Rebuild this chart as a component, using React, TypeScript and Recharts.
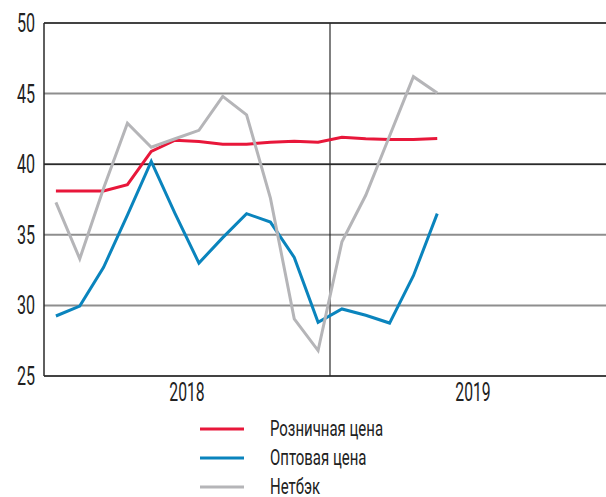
import React from "react";
import { CartesianGrid, Line, LineChart, ReferenceLine, XAxis, YAxis } from "recharts";

// months Jan 2018 .. May 2019
const months = [
  "01.2018", "02.2018", "03.2018", "04.2018", "05.2018", "06.2018",
  "07.2018", "08.2018", "09.2018", "10.2018", "11.2018", "12.2018",
  "01.2019", "02.2019", "03.2019", "04.2019", "05.2019",
];
const retail = [38.1, 38.1, 38.1, 38.55, 40.9, 41.7, 41.6, 41.42, 41.42, 41.55, 41.62, 41.56, 41.9, 41.8, 41.75, 41.75, 41.82];
const wholesale = [29.25, 29.95, 32.7, 36.4, 40.2, 36.5, 33.0, 34.8, 36.5, 35.9, 33.4, 28.8, 29.75, 29.3, 28.75, 32.1, 36.5];
const netback = [37.3, 33.3, 38.3, 42.9, 41.2, 41.8, 42.4, 44.8, 43.5, 37.6, 29.05, 26.8, 34.5, 37.8, 42.0, 46.2, 45.05];

const years = ["2018", "2019"];
const yTicks = [25, 30, 35, 40, 45, 50];

const series = [
  { key: "retail", name: "Розничная цена", color: "#e8173a" },
  { key: "wholesale", name: "Оптовая цена", color: "#0a84bd" },
  { key: "netback", name: "Нетбэк", color: "#b5b5b8" },
];

const data = months.map((m, i) => ({
  month: m,
  x: i + 0.5,
  retail: retail[i],
  wholesale: wholesale[i],
  netback: netback[i],
}));

const FONT = "Roboto, sans-serif";
const DARK = "#2a2a2a";

// narrow text: the original uses a condensed face
const NarrowText = ({ x, y, anchor, size, squeeze, children }: any) => (
  <text
    transform={`translate(${x},${y}) scale(${squeeze},1)`}
    textAnchor={anchor}
    dominantBaseline="central"
    fontSize={size}
    fontFamily={FONT}
    fill="#222"
  >
    {children}
  </text>
);

const YTick = ({ x, y, payload }: any) => (
  <NarrowText x={x} y={y} anchor="end" size={26} squeeze={0.62}>
    {payload.value}
  </NarrowText>
);

const XTick = ({ x, y, payload }: any) => (
  <NarrowText x={x} y={y + 13} anchor="middle" size={25} squeeze={0.63}>
    {years[Math.floor(payload.value / 12)]}
  </NarrowText>
);

export default function App() {
  return (
    <div
      style={{
        position: "absolute",
        left: 0,
        top: 0,
        width: 606,
        height: 497,
        overflow: "hidden",
        background: "#fff",
        fontFamily: FONT,
      }}
    >
      <LineChart width={620} height={497} data={data} margin={{ top: 23, right: 4, left: 0, bottom: 0 }}>
        <CartesianGrid vertical={false} stroke="#8e8e8e" strokeWidth={2} />
        <ReferenceLine y={40} stroke={DARK} strokeWidth={1.5} />
        <ReferenceLine y={50} stroke={DARK} strokeWidth={1.5} />
        <ReferenceLine x={12} stroke={DARK} strokeWidth={1.2} />
        <XAxis
          type="number"
          dataKey="x"
          domain={[0, 24]}
          ticks={[6, 18]}
          height={121}
          tickLine={false}
          tickSize={0}
          tickMargin={4}
          axisLine={{ stroke: DARK, strokeWidth: 1.5 }}
          tick={<XTick />}
        />
        <YAxis
          type="number"
          domain={[25, 50]}
          ticks={yTicks}
          width={44}
          tickLine={false}
          tickSize={0}
          tickMargin={9}
          axisLine={{ stroke: DARK, strokeWidth: 1.5 }}
          tick={<YTick />}
        />
        {series.map((s) => (
          <Line
            key={s.key}
            type="linear"
            dataKey={s.key}
            name={s.name}
            stroke={s.color}
            strokeWidth={3}
            dot={false}
            activeDot={false}
            isAnimationActive={false}
          />
        ))}
        <g>
          {series.map((s, i) => (
            <g key={s.key}>
              <line x1={200} x2={244} y1={429 + i * 29} y2={429 + i * 29} stroke={s.color} strokeWidth={3} />
              <NarrowText x={270} y={429 + i * 29} anchor="start" size={22} squeeze={0.68}>
                {s.name}
              </NarrowText>
            </g>
          ))}
        </g>
      </LineChart>
    </div>
  );
}
